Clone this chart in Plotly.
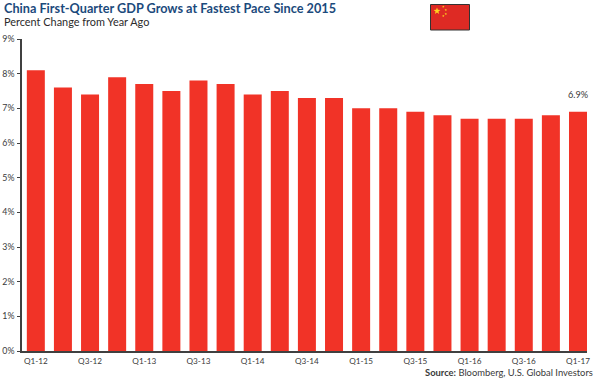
import math
import plotly.graph_objects as go

quarters = ["Q1-12","Q2-12","Q3-12","Q4-12","Q1-13","Q2-13","Q3-13","Q4-13","Q1-14","Q2-14","Q3-14",
            "Q4-14","Q1-15","Q2-15","Q3-15","Q4-15","Q1-16","Q2-16","Q3-16","Q4-16","Q1-17"]
gdp_growth = [8.1,7.6,7.4,7.9,7.7,7.5,7.8,7.7,7.4,7.5,7.3,7.3,7.0,7.0,6.9,6.8,6.7,6.7,6.7,6.8,6.9]
tick_labels = quarters[::2]
y_ticks = list(range(0, 10))
last_label = "6.9%"

W, H = 600, 382
L, R, T, B = 22, 587, 39, 351
FONT = "Lato"
TEXT = "#3a3a3a"

def px(x): return (x - L) / (R - L)
def py(y): return (B - y) / (B - T)

fig = go.Figure(go.Bar(x=quarters, y=gdp_growth, marker=dict(color="#F13327", line=dict(width=0)),
                       width=0.664, hoverinfo="skip", showlegend=False))

shapes = [dict(type="rect", xref="paper", yref="paper", x0=px(430.5), x1=px(469.5), y0=py(30), y1=py(4.5),
               fillcolor="#DE2A24", line=dict(color="#333333", width=1), layer="above")]
def star(cx, cy, r):
    pts = []
    for i in range(10):
        a = -math.pi/2 + i*math.pi/5
        rr = r if i % 2 == 0 else r*0.42
        pts.append((px(cx + rr*math.cos(a)), py(cy + rr*math.sin(a))))
    return "M" + " L".join(f"{a:.5f},{b:.5f}" for a, b in pts) + " Z"
for cx, cy, r in [(437, 11, 3.6), (443.3, 6.8, 1.3), (445.8, 10, 1.3), (445.8, 14, 1.3), (443.3, 16, 1.3)]:
    shapes.append(dict(type="path", xref="paper", yref="paper", path=star(cx, cy, r),
                       fillcolor="#FFD21F", line=dict(width=0), layer="above"))

annos = [
    dict(text="<b>China First-Quarter GDP Grows at Fastest Pace Since 2015</b>", x=px(1.5), y=py(8), xanchor="left", yanchor="middle",
         font=dict(family=FONT, size=12.7, color="#1B4A7C")),
    dict(text="Percent Change from Year Ago", x=px(1.5), y=py(22), xanchor="left", yanchor="middle",
         font=dict(family=FONT, size=10.9, color="#2b2b2b")),
    dict(text="<b>Source:</b> Bloomberg, U.S. Global Investors", x=px(595), y=py(372.5), xanchor="right", yanchor="middle",
         font=dict(family=FONT, size=9.4, color=TEXT)),
    dict(text=last_label, x=quarters[-1], y=gdp_growth[-1], xref="x", yref="y", yshift=17, xanchor="center", yanchor="middle",
         showarrow=False, font=dict(family=FONT, size=9.2, color=TEXT)),
]
for a in annos:
    a.setdefault("xref", "paper"); a.setdefault("yref", "paper"); a["showarrow"] = False

fig.update_layout(
    width=W, height=H, paper_bgcolor="white", plot_bgcolor="white", autosize=False,
    margin=dict(l=L, r=W-R, t=T, b=H-B, pad=0), shapes=shapes, annotations=annos, bargap=0.336,
    font=dict(family=FONT, size=10, color=TEXT),
    xaxis=dict(type="category", categoryorder="array", categoryarray=quarters, range=[-0.51, 20.332], automargin=False,
               tickmode="array", tickvals=tick_labels, ticktext=tick_labels, ticks="", showgrid=False, ticklabelstandoff=1,
               showline=True, linecolor="#404040", linewidth=1.5, tickfont=dict(size=8.2, family=FONT, color=TEXT)),
    yaxis=dict(range=[0, 9], tickmode="array", tickvals=y_ticks, ticktext=[f"{v}%" for v in y_ticks], automargin=False,
               ticks="outside", ticklen=3, tickcolor="#404040", tickwidth=1, showgrid=False, zeroline=False, ticklabelstandoff=1,
               showline=True, linecolor="#404040", linewidth=1.5, tickfont=dict(size=8.8, family=FONT, color=TEXT)),
)
fig.write_html("out.html", config=dict(displayModeBar=False),
               post_script="document.body.style.margin='0';document.documentElement.style.overflow='hidden';")
